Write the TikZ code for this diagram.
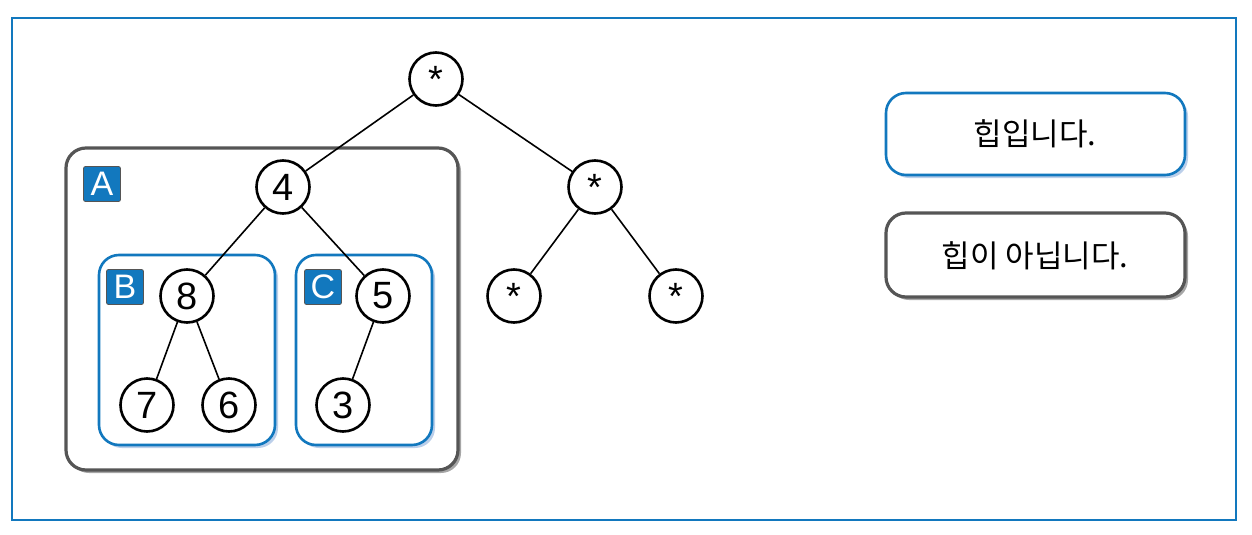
\documentclass[tikz,border=0pt]{standalone}
\usepackage{fontspec}
\setmainfont{Liberation Sans}
\newfontfamily\kr{Noto Sans CJK KR}
\usetikzlibrary{shadows}
\definecolor{frameblue}{RGB}{18,120,190}
\definecolor{boxgray}{RGB}{85,85,85}
\definecolor{shblue}{RGB}{120,160,215}
\tikzset{
  tnode/.style={circle,draw=black,line width=2.6pt,fill=white,minimum size=53pt,inner sep=0pt,font=\fontsize{38}{40}\selectfont},
  tedge/.style={line width=1.6pt},
  graybox/.style={draw=boxgray,line width=3.2pt,rounded corners=20pt,fill=white,drop shadow={shadow xshift=3pt,shadow yshift=-3pt,fill=black,opacity=0.35}},
  bluebox/.style={draw=frameblue,line width=2.6pt,rounded corners=20pt,fill=white,drop shadow={shadow xshift=3pt,shadow yshift=-3pt,fill=shblue,opacity=0.5}},
  tag/.style={fill=frameblue,draw=boxgray,line width=0.8pt,rounded corners=2pt,text=white,minimum width=37pt,minimum height=35pt,inner sep=0pt,font=\fontsize{34}{36}\selectfont},
  msg/.style={font=\kr\fontsize{31}{34}\selectfont}
}
\newcommand{\astx}{\raisebox{-0.2em}{*}}
\begin{document}
\begin{tikzpicture}[x=1pt,y=-1pt]
\useasboundingbox (0,0) rectangle (1252,535);
\fill[white] (0,0) rectangle (1252,535);
\draw[frameblue,line width=2pt] (12,18) rectangle (1236,520);
% group boxes
\path[graybox] (66,148) rectangle (458,470);
\path[bluebox] (99,255) rectangle (275,445);
\path[bluebox] (296,255) rectangle (432,445);
\node[tag] (tA) at (102,184) {A};
\node[tag] (tB) at (125,287) {B};
\node[tag] (tC) at (323,287) {C};
% message boxes
\path[bluebox] (886,93) rectangle (1185,175);
\node[msg] (m1) at (1035,134) {힙입니다.};
\path[graybox] (886,213) rectangle (1185,297);
\node[msg] (m2) at (1035,256) {힙이 아닙니다.};
% tree nodes
\node[tnode] (r) at (436,79) {\astx};
\node[tnode] (n4) at (283,187) {4};
\node[tnode] (rs) at (595,187) {\astx};
\node[tnode] (n8) at (187,296) {8};
\node[tnode] (n5) at (383,296) {5};
\node[tnode] (rl) at (514,296) {\astx};
\node[tnode] (rr) at (676,296) {\astx};
\node[tnode] (n7) at (147,405) {7};
\node[tnode] (n6) at (229,405) {6};
\node[tnode] (n3) at (343,405) {3};
\draw[tedge] (r) -- (n4);
\draw[tedge] (r) -- (rs);
\draw[tedge] (n4) -- (n8);
\draw[tedge] (n4) -- (n5);
\draw[tedge] (rs) -- (rl);
\draw[tedge] (rs) -- (rr);
\draw[tedge] (n8) -- (n7);
\draw[tedge] (n8) -- (n6);
\draw[tedge] (n5) -- (n3);
\end{tikzpicture}
\end{document}
